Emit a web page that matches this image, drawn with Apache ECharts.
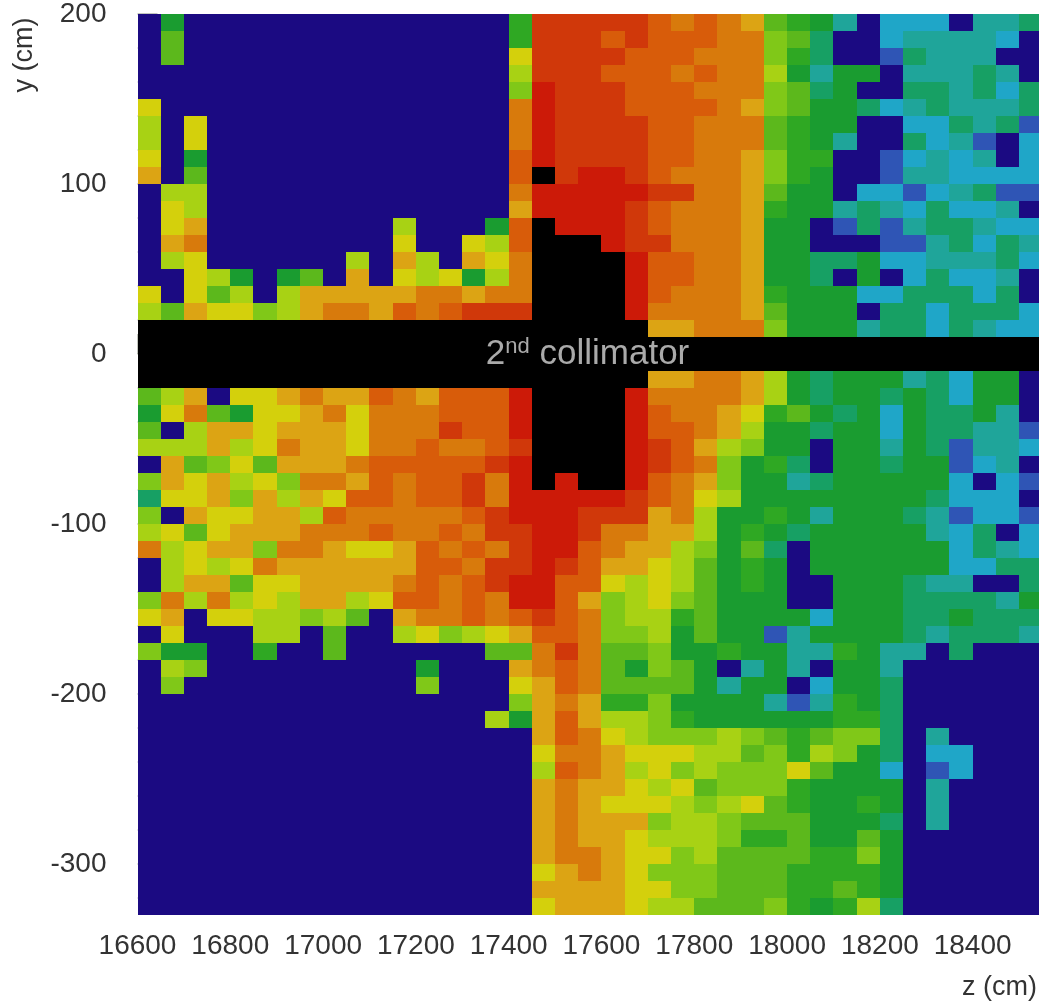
<!DOCTYPE html>
<html>
<head>
<meta charset="utf-8">
<style>html,body{margin:0;padding:0;background:#fff}#c{width:1039px;height:1005px;filter:blur(0.6px)}</style>
<script src="https://cdn.jsdelivr.net/npm/echarts@6/dist/echarts.min.js"></script>
</head>
<body>
<div id="c"></div>
<script>
// Flux level of each colour bin, N (empty) ... R (highest), K = inside the collimator
const levelOrder = ['N','B','C','T','E','D','G','H','L','M','Y','A','O','P','Q','R','K'];
const levelColors = ['#1b0a82','#2f55b5','#1fa6c8','#1fa59a','#17a064','#1a9c30','#2fa823','#5cb81c','#80c818','#a8d214','#d4d00c','#dca414','#d87a0c','#d85c0a','#d0380a','#cc1a08','#000000'];
const zStart = 16600, zBin = 50, yStart = 200, yBin = 10;
const zMin = 16600, zMax = 18543, yMin = -330, yMax = 200;
const zTicks = [16600,16800,17000,17200,17400,17600,17800,18000,18200,18400];
const yTicks = [-300,-200,-100,0,100,200];
const zMinorTicks = [16650,16700,16750,16850,16900,16950,17050,17100,17150,17250,17300,17350,17450,17500,17550,17650,17700,17750,17850,17900,17950,18050,18100,18150,18250,18300,18350,18450,18500];
const yMinorTicks = [-320,-280,-260,-240,-220,-180,-160,-140,-120,-80,-60,-40,-20,20,40,60,80,120,140,160,180];
const annotationPoint = [17570, 0];
// One string per row from y = 200 downward, one letter per 50 cm bin from z = 16600
const rows = [
"NDNNNNNNNNNNN"+"NNNGQQQQQPOPO"+"AHGDTNCCCNTTE",
"NHNNNNNNNNNNN"+"NNNGQQQPQPPPO"+"OLHENNCTTTTCN",
"NHNNNNNNNNNNN"+"NNNYQQQQPPPOO"+"OLGENNBETTTNN",
"NNNNNNNNNNNNN"+"NNNMQQQPPPOPO"+"OMDTDDNTTTETN",
"NNNNNNNNNNNNN"+"NNNLRQQQPPPOO"+"OLHEDNNEETECE",
"YNNNNNNNNNNNN"+"NNNORQQQPPPPO"+"ALHDDECTETTTE",
"MNYNNNNNNNNNN"+"NNNORQQQQPPOO"+"OHGDDNNCCETEB",
"MNYNNNNNNNNNN"+"NNNORQQQQPPOO"+"OHGDTNNECTBNC",
"YNDNNNNNNNNNN"+"NNNPRQQQQPPOO"+"ALGGNNBCTCTNC",
"ANHNNNNNNNNNN"+"NNNPKQRRQPOOO"+"ALGDNNBTTCCCC",
"NMMNNNNNNNNNN"+"NNNORRRRRQQOO"+"AHDDNCCBCTEBB",
"NYMNNNNNNNNNN"+"NNNARRRRQPOOO"+"AGDDTETCECCTN",
"NYANNNNNNNNMN"+"NNDPKRRRQPOOO"+"ADDNBEBTEETCC",
"NAONNNNNNNNYN"+"NYMPKKKRQQOOO"+"ADDNNNBBTECET",
"NMYNNNNNNMNAM"+"NAYOKKKKRPPOO"+"ADDEEDCCTTTEC",
"NNYMDNDHNANYM"+"YDMOKKKKRPPOO"+"ADDENDNCECCTN",
"YNYHMNMAAAAAO"+"OAOOKKKKRPOOO"+"AGDDDCCEEECEN",
"MHAYYLMAOOAPO"+"PQQQKKKKROOOO"+"AHDDDNEECEEEC",
"KKKKKKKKKKKKK"+"KKKKKKKKKAAOO"+"OLDDDTEECETCC",
"KKKKKKKKKKKKK"+"KKKKKKKKKKKKK"+"KKKKKKKKKKKKK",
"KKKKKKKKKKKKK"+"KKKKKKKKKKKKK"+"KKKKKKKKKKKKK",
"KKKKKKKKKKKKK"+"KKKKKKKKKAAOO"+"AMDEDDDTECDDN",
"HMANYYAOAAPOA"+"PPPRKKKKROOOO"+"AMDEDDEDECDDN",
"DYOHDYYAOYOOO"+"PPPRKKKKRPOOA"+"YGHDEDCDEEDTN",
"HNMAAYAAAYOOO"+"QPPRKKKKRPPOA"+"MDDEDDCDEETTB",
"MMMAMYOAAYOOP"+"OOPQKKKKRQPAM"+"LDDNDDTDEBTTC",
"NAHLYHAAAOPPP"+"PPQRKKKKRQPOL"+"DGENDDEDDBCTN",
"LAYAMYLOOAPOP"+"PQORKRKKRPOAL"+"DDTEDDDDDCNCB",
"EYYALAMAYPPOP"+"PQORRRRRQPOYM"+"DDDDDDDDECCCN",
"LNAYYAAMPOOOO"+"OPQRRRQQQAOMD"+"DGDTDDDETBCCB",
"MYHYAAAOOOPOO"+"POQQRRQOOAAMD"+"GDEDDDDDTCENC",
"OMYAALOOAYYAP"+"OPOQRRPOAAMLD"+"HENDDDDDDCETC",
"NMYMYOAAAAAAP"+"POQQRQPAAYMHD"+"GDNDDDDDDCCEE",
"NMAAHYYAAAAOP"+"OPQRRPPYMYMHD"+"GDNNDDDETTNNE",
"LOMOMYMAAMYPP"+"OPORRPALMYLHD"+"DDNNDDDEEEETD",
"YANYYMMLMHNAO"+"OPOPQPOLMMGHD"+"DDDCDDDEEDEEE",
"NYNNNMMNHNNMY"+"LMYAPPOLLMDHD"+"DBTDDDDETEEET",
"LDDNNGNNHNNNN"+"NNHHOQOHHLDDG"+"DDTTGDTTNENNN",
"NMLNNNNNNNNND"+"NNNAOPOHDLHDN"+"TDTNDDTNNNNNN",
"NLNNNNNNNNNNL"+"NNNYAPOHHHHDT"+"DDNCDDENNNNNN",
"NNNNNNNNNNNNN"+"NNNLAOAGGLDDD"+"DTBTGDENNNNNN",
"NNNNNNNNNNNNN"+"NNMDAPAMMLGDD"+"DDDDGGENNNNNN",
"NNNNNNNNNNNNN"+"NNNNAPOYMLLLM"+"LHGHLLENTNNNN",
"NNNNNNNNNNNNN"+"NNNNYOOAYYYMM"+"HLGMLDENCCNNN",
"NNNNNNNNNNNNN"+"NNNNMPOAMYLML"+"LLYHDDCNBCNNN",
"NNNNNNNNNNNNN"+"NNNNAOAAYMYHL"+"LLGDDDDNTNNNN",
"NNNNNNNNNNNNN"+"NNNNAOAYYYMLM"+"YHGDDGDNTNNNN",
"NNNNNNNNNNNNN"+"NNNNAOAAALMML"+"HHHDDDENTNNNN",
"NNNNNNNNNNNNN"+"NNNNAOAAYMMML"+"GGHDDHDNNNNNN",
"NNNNNNNNNNNNN"+"NNNNAOOAYYLMH"+"HHHGGLDNNNNNN",
"NNNNNNNNNNNNN"+"NNNNYAOAYLLLH"+"HHGGGGDNNNNNN",
"NNNNNNNNNNNNN"+"NNNNAAAAYYLLH"+"HHGGHGDNNNNNN",
"NNNNNNNNNNNNN"+"NNNNYAAAYMMHH"+"HLGDGMENNNNNN"
];

const cells = [];
rows.forEach((row, r) => {
  [...row].forEach((ch, c) => {
    cells.push([zStart + c * zBin, yStart - r * yBin, levelOrder.indexOf(ch)]);
  });
});

const font = '"Liberation Sans", Arial, Helvetica, sans-serif';
const labelColor = '#333';
const chart = echarts.init(document.getElementById('c'), null, {renderer: 'canvas'});

function baseX(extra) {
  return Object.assign({type: 'value', min: zMin, max: zMax, position: 'bottom', splitLine: {show: false}, axisLine: {show: false}}, extra);
}
function baseY(extra) {
  return Object.assign({type: 'value', min: yMin, max: yMax, position: 'left', splitLine: {show: false}, axisLine: {show: false}}, extra);
}

chart.setOption({
  animation: false,
  backgroundColor: '#ffffff',
  grid: {left: 137.5, top: 14, width: 901.5, height: 901, containLabel: false},
  xAxis: [
    baseX({
      axisTick: {show: true, inside: true, length: 20, customValues: zTicks, lineStyle: {color: 'rgba(30,40,10,0.35)', width: 1.5}},
      axisLabel: {show: true, customValues: zTicks, margin: 17, fontFamily: font, fontSize: 28, color: labelColor, formatter: v => String(v)}
    }),
    baseX({
      axisTick: {show: true, inside: true, length: 10, customValues: zMinorTicks, lineStyle: {color: 'rgba(30,40,10,0.25)', width: 1.5}},
      axisLabel: {show: false}
    })
  ],
  yAxis: [
    baseY({
      axisTick: {show: true, inside: true, length: 20, customValues: yTicks, lineStyle: {color: 'rgba(30,40,10,0.35)', width: 1.5}},
      axisLabel: {show: true, customValues: yTicks, margin: 31, padding: [6, 0, 0, 0], fontFamily: font, fontSize: 28, color: labelColor, formatter: v => String(v)}
    }),
    baseY({
      axisTick: {show: true, inside: true, length: 10, customValues: yMinorTicks, lineStyle: {color: 'rgba(30,40,10,0.25)', width: 1.5}},
      axisLabel: {show: false}
    })
  ],
  graphic: [
    {type: 'text', z: 10, x: 25, y: 55, rotation: Math.PI / 2,
     style: {text: 'y (cm)', fontFamily: font, fontSize: 27, fill: labelColor, align: 'center', verticalAlign: 'middle'}},
    {type: 'text', z: 10, x: 1037, y: 988,
     style: {text: 'z (cm)', fontFamily: font, fontSize: 27, fill: labelColor, align: 'right', verticalAlign: 'middle'}}
  ],
  series: [
    {
      type: 'custom',
      clip: true,
      z: 1,
      silent: true,
      encode: {x: 0, y: 1},
      data: cells,
      renderItem: (params, api) => {
        const z = api.value(0), y = api.value(1);
        const a = api.coord([z, y]);
        const b = api.coord([z + zBin, y - yBin]);
        const left = Math.round(a[0]), top = Math.round(a[1]);
        return {
          type: 'rect',
          shape: {x: left, y: top, width: Math.round(b[0]) - left, height: Math.round(b[1]) - top},
          style: {fill: levelColors[api.value(2)]}
        };
      }
    },
    {
      type: 'scatter',
      z: 5,
      silent: true,
      symbolSize: 0,
      data: [annotationPoint],
      label: {
        show: true,
        position: 'inside',
        formatter: '{b|2}{s|nd}{b| collimator}',
        rich: {
          b: {fontFamily: font, fontSize: 35, color: '#d4d4d4', lineHeight: 36, verticalAlign: 'bottom'},
          s: {fontFamily: font, fontSize: 22, color: '#d4d4d4', lineHeight: 36, verticalAlign: 'top'}
        }
      }
    }
  ]
});
</script>
</body>
</html>
